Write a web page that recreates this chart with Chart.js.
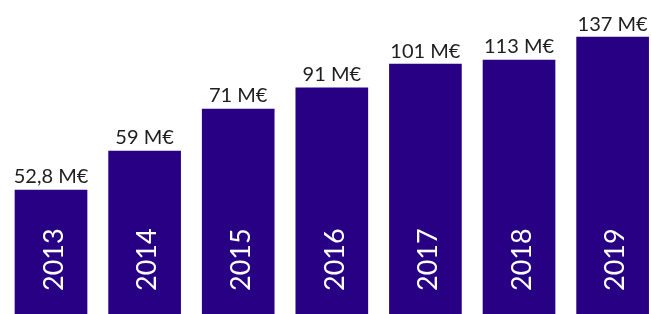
<!DOCTYPE html>
<html lang="fr">
<head>
    <meta charset="UTF-8">
    <title>Chiffre d'affaires</title>
    <script src="https://cdn.jsdelivr.net/npm/chart.js@4.4.0/dist/chart.umd.min.js"></script>
    <style>
        html, body {
            margin: 0;
            padding: 0;
            background: #fff;
        }
        #wrap {
            width: 651px;
            height: 314px;
        }
    </style>
</head>
<body>

<div id="wrap"><canvas id="caChart" width="651" height="314"></canvas></div>

<script>
    // années (catégories)
    const years = ['2013', '2014', '2015', '2016', '2017', '2018', '2019'];
    // libellés au-dessus des barres
    const valueLabels = ['52,8 M€', '59 M€', '71 M€', '91 M€', '101 M€', '113 M€', '137 M€'];
    // hauteur visible des barres (en % de la hauteur du graphique)
    const barHeights = [39.5, 51.9, 65.3, 72.0, 79.6, 80.9, 88.2];

    const barColor = '#270083';

    // textes dessinés sur / au-dessus des barres
    const labelPlugin = {
        id: 'labels',
        afterDatasetsDraw(chart) {
            const ctx = chart.ctx;
            const meta = chart.getDatasetMeta(0);
            const bottom = chart.chartArea.bottom;
            ctx.save();
            meta.data.forEach((bar, i) => {
                // valeur
                ctx.fillStyle = '#1e1e1e';
                ctx.font = '20px Lato';
                ctx.textAlign = 'center';
                ctx.textBaseline = 'bottom';
                ctx.fillText(valueLabels[i], bar.x, bar.y - 3);

                // année, verticale
                ctx.save();
                ctx.translate(bar.x + 3, bottom - 23);
                ctx.rotate(-Math.PI / 2);
                ctx.fillStyle = '#ffffff';
                ctx.font = '27px Lato';
                ctx.textAlign = 'left';
                ctx.textBaseline = 'middle';
                ctx.fillText(years[i], 0, 0);
                ctx.restore();
            });
            ctx.restore();
        }
    };

    new Chart(document.getElementById('caChart'), {
        type: 'bar',
        data: {
            datasets: [{
                data: barHeights.map((h, i) => ({ x: i, y: h })),
                backgroundColor: barColor,
                borderWidth: 0,
                barThickness: 72,
                base: -2
            }]
        },
        options: {
            responsive: false,
            animation: false,
            layout: { padding: 0 },
            plugins: {
                legend: { display: false },
                tooltip: { enabled: false }
            },
            scales: {
                x: {
                    type: 'linear',
                    offset: false,
                    min: -0.545,
                    max: 6.41,
                    display: false
                },
                y: {
                    min: 0,
                    max: 100,
                    display: false
                }
            }
        },
        plugins: [labelPlugin]
    });
</script>

</body>
</html>
